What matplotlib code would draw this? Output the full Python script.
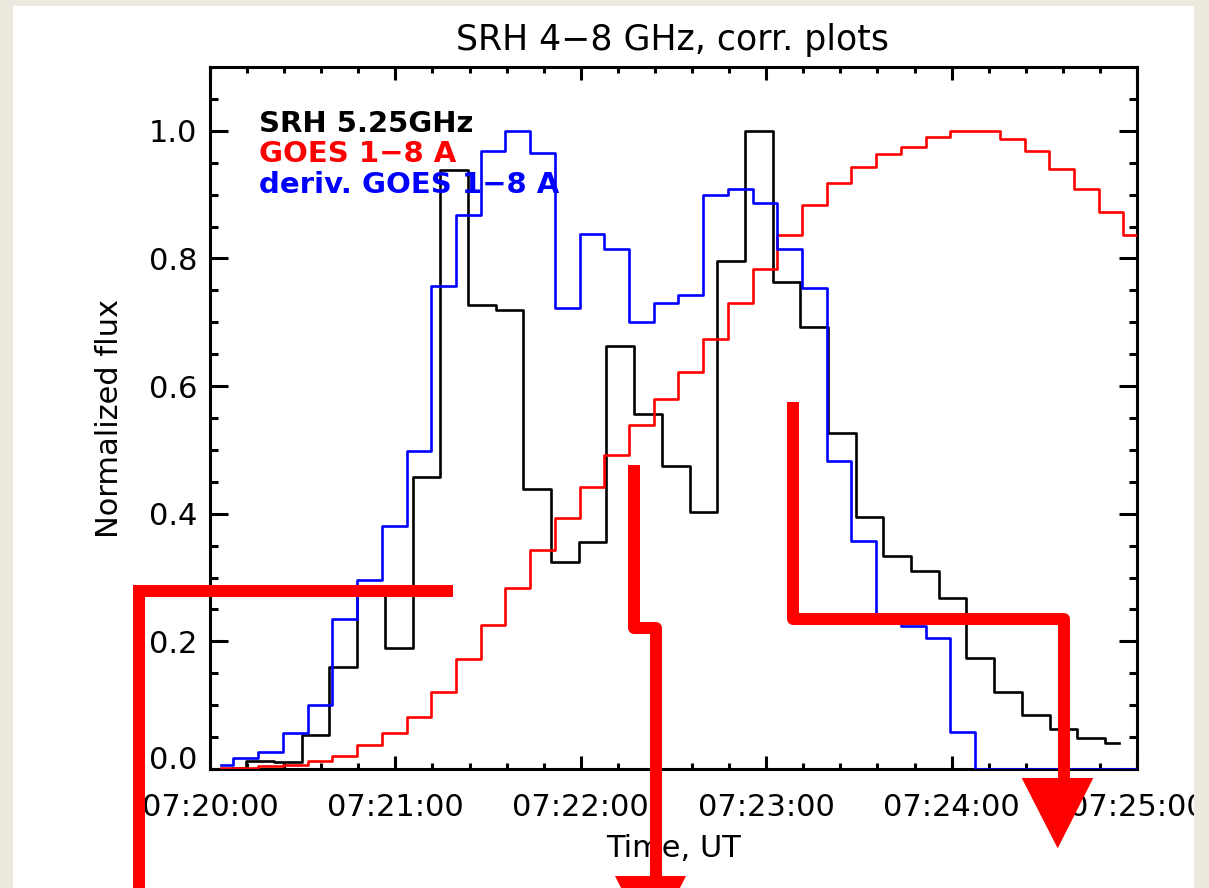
import numpy as np
import matplotlib
matplotlib.use("Agg")
import matplotlib.pyplot as plt
from matplotlib.patches import Rectangle, Polygon
from matplotlib.ticker import MultipleLocator, FixedLocator, FixedFormatter

# ---- data: seconds after 07:20:00 UT, normalized fluxes ----
goes_t0 = 3.6          # first GOES sample, s
goes_dt = 8.0          # GOES cadence, s
goes_flux = [0.002, 0.002, 0.004, 0.007, 0.0125, 0.020, 0.038, 0.056, 0.082, 0.120,
             0.172, 0.225, 0.284, 0.343, 0.393, 0.4425, 0.492, 0.539, 0.579, 0.622,
             0.6735, 0.730, 0.784, 0.836, 0.883, 0.918, 0.944, 0.963, 0.974, 0.991,
             1.000, 0.999, 0.987, 0.969, 0.940, 0.909, 0.8735, 0.836]
goes_deriv = [0.006, 0.0167, 0.027, 0.056, 0.101, 0.235, 0.296, 0.381, 0.499, 0.7575,
              0.868, 0.969, 1.000, 0.966, 0.723, 0.8386, 0.8145, 0.701, 0.730, 0.742,
              0.900, 0.909, 0.8876, 0.8145, 0.7534, 0.483, 0.357, 0.235, 0.224, 0.206,
              0.0585, 0.0, 0.0, 0.0, 0.0, 0.0, 0.0, 0.0]

srh_t0 = 7.3           # first SRH sample, s
srh_dt = 8.963         # SRH cadence, s
srh_flux = [0.002, 0.012, 0.0105, 0.053, 0.160, 0.280, 0.189, 0.457, 0.938, 0.727,
            0.719, 0.438, 0.324, 0.355, 0.6635, 0.556, 0.475, 0.402, 0.796, 1.000,
            0.763, 0.692, 0.527, 0.395, 0.333, 0.311, 0.2675, 0.1745, 0.121, 0.0846,
            0.0627, 0.049, 0.040]

xtick_seconds = [0, 60, 120, 180, 240, 300]
xtick_labels = ["07:20:00", "07:21:00", "07:22:00", "07:23:00", "07:24:00", "07:25:00"]
ytick_values = [0.0, 0.2, 0.4, 0.6, 0.8, 1.0]
ytick_labels = ["0.0", "0.2", "0.4", "0.6", "0.8", "1.0"]

series_names = ["SRH 5.25GHz", "GOES 1\u22128 A", "deriv. GOES 1\u22128 A"]
series_colors = ["black", "#FF0000", "#0000FF"]

# ---- figure ----
W, H = 1209, 888
fig = plt.figure(figsize=(W / 100, H / 100), dpi=100)
beige = "#ECE9DF"
fig.patch.set_facecolor(beige)
fig.add_artist(Rectangle((13 / W, 0), (1194 - 13) / W, (888 - 6) / H,
                         transform=fig.transFigure, facecolor="white",
                         edgecolor="none", zorder=-10))

plt.rcParams["font.family"] = ["DejaVu Sans"]

ax = fig.add_axes([210 / W, 1 - 769 / H, 927 / W, 702 / H])
ax.set_facecolor("white")

goes_t = goes_t0 + goes_dt * np.arange(len(goes_flux))
srh_t = srh_t0 + srh_dt * np.arange(len(srh_flux))

ax.step(srh_t, srh_flux, where="mid", color=series_colors[0], lw=1.9, zorder=3)
ax.step(goes_t, goes_flux, where="mid", color=series_colors[1], lw=1.9, zorder=4)
ax.step(goes_t, goes_deriv, where="mid", color=series_colors[2], lw=1.9, zorder=5)

ax.set_xlim(0, 300)
ax.set_ylim(0, 1.1)

ax.xaxis.set_major_locator(FixedLocator(xtick_seconds))
ax.xaxis.set_major_formatter(FixedFormatter(xtick_labels))
ax.xaxis.set_minor_locator(MultipleLocator(12))
ax.yaxis.set_major_locator(FixedLocator(ytick_values))
ax.yaxis.set_major_formatter(FixedFormatter(ytick_labels))
ax.yaxis.set_minor_locator(MultipleLocator(0.05))

for s in ax.spines.values():
    s.set_linewidth(2.2)
ax.tick_params(axis="both", which="both", direction="in", top=True, right=True,
               width=2.2, labelsize=22)
ax.tick_params(axis="x", which="major", length=9.5, pad=17)
ax.tick_params(axis="x", which="minor", length=4.5)
ax.tick_params(axis="y", which="major", length=13, pad=9)
ax.tick_params(axis="y", which="minor", length=6)

# lowest y label rests on the x axis line
fig.canvas.draw()
ax.get_yticklabels()[0].set_verticalalignment("baseline")

# in-plot legend as coloured labels
leg_y = [0.9074, 0.8647, 0.8205]
for name, col, yy in zip(series_names, series_colors, leg_y):
    ax.text(0.053, yy, name, transform=ax.transAxes, color=col, fontsize=21,
            fontweight="bold", ha="left", va="baseline", zorder=6)

fig.text(672 / W, 1 - 50 / H, "SRH 4\u22128 GHz, corr. plots", fontsize=25,
         ha="center", va="baseline")
fig.text(673 / W, 1 - 857 / H, "Time, UT", fontsize=22, ha="center", va="baseline")
fig.text(110 / W, 1 - 418 / H, "Normalized flux", fontsize=22, rotation=90,
         ha="center", va="center")

# ---- red overlay marks in pixel space ----
ov = fig.add_axes([0, 0, 1, 1], zorder=5)
ov.set_xlim(0, W)
ov.set_ylim(H, 0)
ov.axis("off")
ov.patch.set_alpha(0)
red = "#FF0000"
lw_px = 12 * 72 / 100
ov.plot([138.5, 138.5, 452.6], [900, 591, 591], color=red, lw=lw_px,
        solid_joinstyle="miter", solid_capstyle="butt")
ov.plot([634, 634, 656, 656], [465, 628, 628, 878], color=red, lw=lw_px,
        solid_joinstyle="round", solid_capstyle="butt")
ov.add_patch(Polygon([[615, 876], [686, 876], [650.5, 946]], closed=True,
                     facecolor=red, edgecolor="none"))
ov.plot([793, 793, 1063.5, 1063.5], [402, 619, 619, 780], color=red, lw=lw_px,
        solid_joinstyle="round", solid_capstyle="butt")
ov.add_patch(Polygon([[1021.7, 778], [1093.3, 778], [1057.7, 848.3]], closed=True,
                     facecolor=red, edgecolor="none"))

# frame strip on the right edge sits above everything
fig.add_artist(Rectangle((1194 / W, 0), (W - 1194) / W, 1, transform=fig.transFigure,
                         facecolor=beige, edgecolor="none", zorder=20))

fig.savefig("out.png", dpi=100, facecolor=fig.get_facecolor())
